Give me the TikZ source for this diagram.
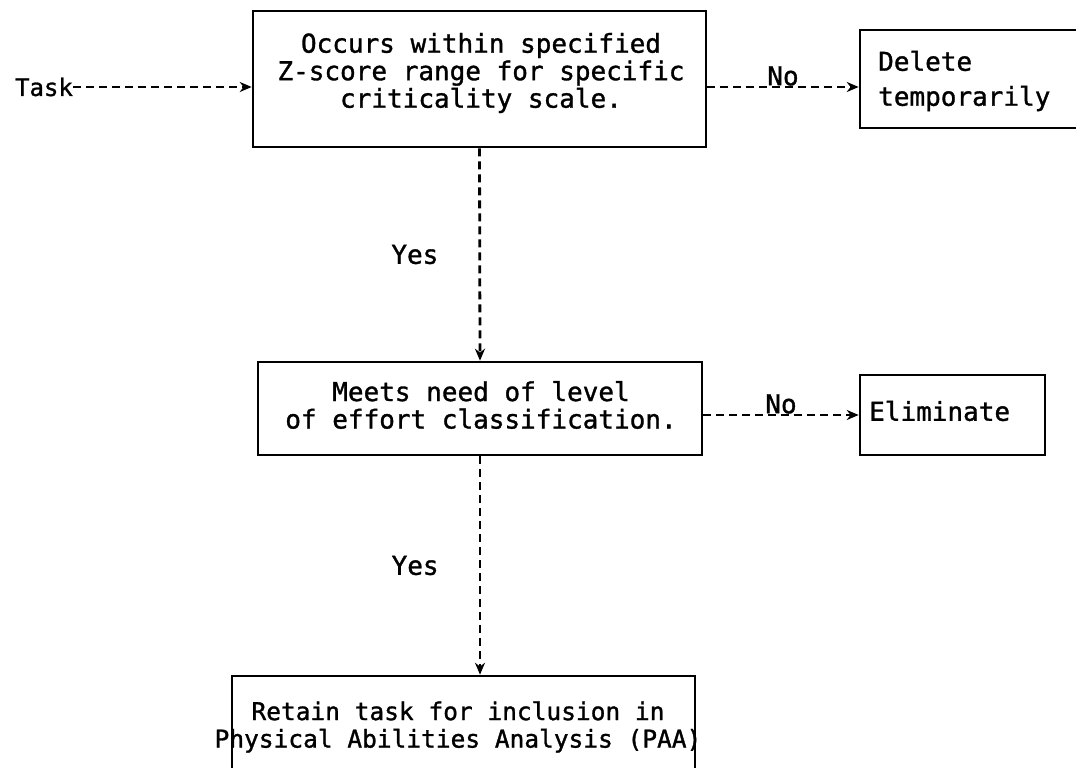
\documentclass[tikz,border=0pt]{standalone}
\usepackage{fontspec}
\setmonofont[FakeBold=1.2]{DejaVu Sans Mono}
\usetikzlibrary{arrows.meta}
\begin{document}
\begin{tikzpicture}[x=1pt,y=-1pt,
  txt/.style={font=\ttfamily\fontsize{26}{27.5}\selectfont, inner sep=0pt},
  boxe/.style={draw, line width=2.6pt, inner sep=0pt},
  flow/.style={line width=2.8pt, dash pattern=on 8pt off 5pt, -{Stealth[length=12pt,width=10pt]}}
]
\useasboundingbox (0,0) rectangle (1076,768);
\clip (0,0) rectangle (1076,768);
% boxes
\node[boxe, minimum width=453pt, minimum height=136pt] (b1) at (479.5,79) {};
\node[boxe, minimum width=240pt, minimum height=98pt] (del) at (980,79) {};
\node[boxe, minimum width=444pt, minimum height=93pt] (b2) at (480,408.5) {};
\node[boxe, minimum width=185pt, minimum height=80pt] (elim) at (952.5,415) {};
\node[boxe, minimum width=463pt, minimum height=120pt] (b3) at (463.5,736) {};
% texts
\node[txt, font=\ttfamily\fontsize{24}{27.5}\selectfont] (task) at (44,87) {Task};
\node[txt, align=center] (t1) at (481,73) {Occurs within specified\\Z-score range for specific\\criticality scale.};
\node[txt, align=left, anchor=west, font=\ttfamily\fontsize{26}{35}\selectfont] (t2) at (878,81) {Delete\\temporarily};
\node[txt, align=center] (t3) at (481,405) {Meets need of level\\of effort classification.};
\node[txt, anchor=west] (t4) at (869,411) {Eliminate};
\node[txt, align=center, font=\ttfamily\fontsize{24.5}{27.5}\selectfont] (t5) at (458,727) {Retain task for inclusion in\\Physical Abilities Analysis (PAA)};
% connectors
\coordinate (a1) at (b1.west |- task);
\draw[flow] (task.east) -- (a1);
\coordinate (n1s) at (b1.east |- task);
\coordinate (n1e) at (del.west |- task);
\draw[flow] (n1s) -- node[txt, above=0pt] (no1) {No} (n1e);
\draw[flow] (b1.south) -- node[txt, left=40pt] (yes1) {Yes} (b2.north);
\coordinate (n2s) at (b2.east |- elim);
\draw[flow] (n2s) -- node[txt, above=0pt] (no2) {No} (elim.west);
\draw[flow] (b2.south) -- node[txt, left=40pt] (yes2) {Yes} (b2.south |- b3.north);
\end{tikzpicture}
\end{document}
